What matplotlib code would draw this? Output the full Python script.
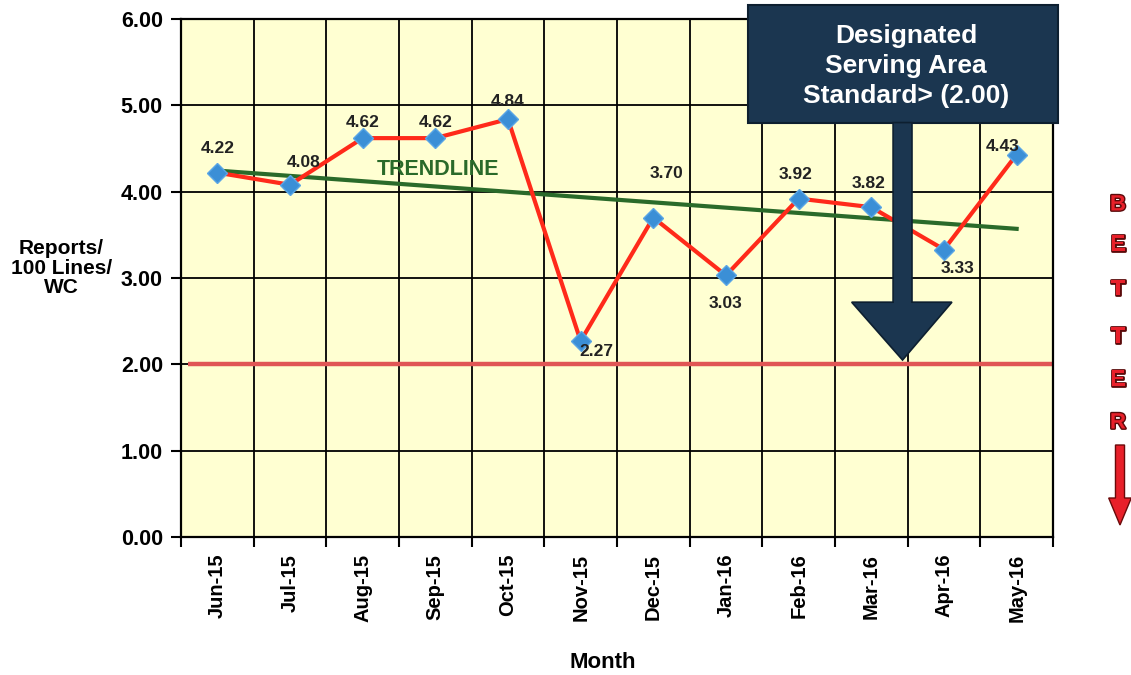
import matplotlib
matplotlib.use("Agg")
import matplotlib.pyplot as plt
import matplotlib.patheffects as pe
from matplotlib.patches import Polygon, FancyArrow
import numpy as np

plt.rcParams['font.family'] = ['Liberation Sans', 'DejaVu Sans']

# data
months = ['Jun-15', 'Jul-15', 'Aug-15', 'Sep-15', 'Oct-15', 'Nov-15',
          'Dec-15', 'Jan-16', 'Feb-16', 'Mar-16', 'Apr-16', 'May-16']
reports = [4.22, 4.08, 4.62, 4.62, 4.84, 2.27, 3.70, 3.03, 3.92, 3.82, 3.33, 4.43]
standard = 2.00
yticks = [0, 1, 2, 3, 4, 5, 6]

# label offsets in pixels (dx, dy) relative to each point
label_offsets = [(0, 24), (14, 22), (0, 16), (0, 16), (0, 18), (16, -10),
                 (13, 44), (0, -28), (-3, 24), (-3, 24), (14, -19), (-14, 8)]

fig = plt.figure(figsize=(11.31, 6.75), dpi=100)
ax = fig.add_axes([0.160, 0.2044, 0.771, 0.7675])
ax.set_facecolor('#ffffd2')

x = np.arange(len(months))
ax.set_xlim(-0.5, len(months) - 0.5)
ax.set_ylim(0, 6)

# grid
for b in np.arange(0.5, len(months) - 0.5, 1):
    ax.axvline(b, color='black', lw=1.3, zorder=1)
for yv in yticks[1:-1]:
    ax.axhline(yv, color='black', lw=1.3, zorder=1)

# standard line
ax.plot([-0.4, len(months) - 0.5], [standard, standard], color='#e05555', lw=3.2, zorder=2,
        solid_capstyle='butt')

# trendline
k, b0 = np.polyfit(x, reports, 1)
ax.plot([x[0], x[-1]], [b0, b0 + k * x[-1]], color='#2a6a2a', lw=3, zorder=3)
ax.text(3.04, 4.26, 'TRENDLINE', color='#2a6a2a', fontsize=15.5, fontweight='bold',
        ha='center', va='center', zorder=4)

# data line
ax.plot(x, reports, color='#ff2a1a', lw=3, zorder=5)
ax.plot(x, reports, linestyle='none', marker='D', markersize=10, color='#3b8fd6',
        markeredgecolor='#5aa6e6', markeredgewidth=1, zorder=6)

for xi, yi, (dx, dy) in zip(x, reports, label_offsets):
    ax.annotate('%.2f' % yi, (xi, yi), xytext=(dx * 0.72, dy * 0.72), textcoords='offset points',
                ha='center', va='center', fontsize=12.5, fontweight='bold', color='#222222', zorder=7)

# axes style
for s in ax.spines.values():
    s.set_color('black')
    s.set_linewidth(1.6)
ax.set_yticks(yticks)
ax.set_yticklabels(['%.2f' % v for v in yticks], fontsize=15.5, fontweight='bold')
ax.tick_params(axis='y', length=7, width=1.5, pad=6)
ax.set_xticks(x)
ax.set_xticklabels(months, rotation=90, fontsize=14.5, fontweight='bold')
ax.tick_params(axis='x', length=0, pad=12)
ax.set_xticks(np.arange(-0.5, len(months), 1), minor=True)
ax.tick_params(axis='x', which='minor', length=7, width=1.5)

fig.text(603 / 1131, 1 - 663 / 675.0, 'Month', ha='center', va='center',
         fontsize=16, fontweight='bold')
fig.text(0.054, 1 - 268 / 675.0, 'Reports/\n100 Lines/\nWC', ha='center', va='center',
         fontsize=15, fontweight='bold', linespacing=1.05)

# callout box with arrow
navy = '#1b3650'
box = Polygon([[7.30, 6.16], [11.57, 6.16], [11.57, 4.80], [7.30, 4.80]], closed=True,
              facecolor=navy, edgecolor='#0d1f30', lw=1.5, clip_on=False, zorder=10)
ax.add_patch(box)
arrow = Polygon([[9.30, 4.80], [9.56, 4.80], [9.56, 2.72], [10.11, 2.72], [9.43, 2.05],
                 [8.73, 2.72], [9.30, 2.72]], closed=True, facecolor=navy,
                edgecolor='#0d1f30', lw=1.2, clip_on=False, zorder=10)
ax.add_patch(arrow)
ax.text(9.48, 5.456, 'Designated\nServing Area\nStandard> (2.00)', color='white',
        fontsize=19, fontweight='bold', ha='center', va='center', linespacing=1.32, zorder=11)

# BETTER with arrow on the right
fig_h = 675.0
for ch, yp in zip('BETTER', [205, 245, 290, 337, 380, 423]):
    fig.text(1118 / 1131, 1 - yp / fig_h, ch, color='#e8202a', fontsize=16, fontweight='bold',
             ha='center', va='center',
             path_effects=[pe.withStroke(linewidth=2, foreground='#5a0a0a')])
fig.patches.append(FancyArrow(1120 / 1131, 1 - 445 / fig_h, 0, -(80 / fig_h), width=0.008,
                              head_width=0.02, head_length=0.04, length_includes_head=True,
                              color='#e8202a', ec='#6a0a0a', lw=1, transform=fig.transFigure,
                              figure=fig))

fig.savefig('out.png', dpi=100)
